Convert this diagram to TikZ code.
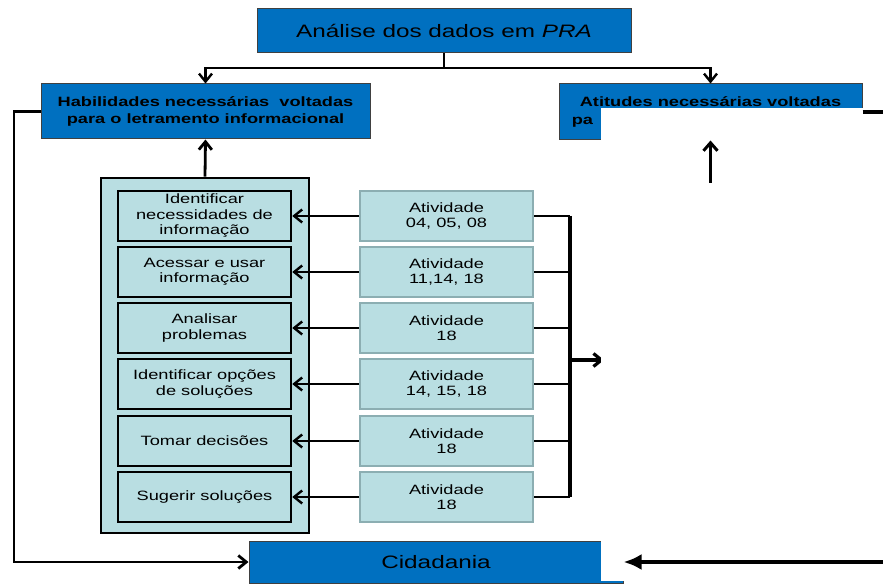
\documentclass[tikz,border=0pt]{standalone}
\usepackage{fontspec}
\setmainfont{Liberation Sans}[FakeStretch=1.35]
\usetikzlibrary{arrows.meta}
\definecolor{boxblue}{HTML}{0070C0}
\definecolor{lteal}{RGB}{185,222,226}
\definecolor{tealedge}{RGB}{140,174,178}
\begin{document}
\begin{tikzpicture}[x=1pt,y=-1pt,
  bluebox/.style={draw=black!75, line width=1pt, fill=boxblue, inner sep=0pt, text=black},
  bigtxt/.style={font=\fontsize{18}{21}\selectfont},
  boldtxt/.style={font=\fontsize{13.5}{17.5}\selectfont\bfseries, align=center},
  skillbox/.style={draw=black, line width=2.5pt, fill=lteal, minimum width=173pt, minimum height=50pt, inner sep=0pt, align=center, font=\fontsize{13.5}{15.5}\selectfont},
  actbox/.style={draw=tealedge, line width=2pt, fill=lteal, minimum width=173pt, minimum height=50pt, inner sep=0pt, align=center, font=\fontsize{13.5}{15.5}\selectfont},
  conn/.style={draw=black, line width=2.4pt},
  barb/.style={-{Straight Barb[length=8pt,width=13pt]}},
]
\useasboundingbox (0,0) rectangle (883,585);
\fill[white] (0,0) rectangle (883,585);

% top boxes
\node[bluebox, bigtxt, minimum width=374pt, minimum height=44pt] (title) at (444,31) {Análise dos dados em \textit{PRA}};
\node[bluebox, boldtxt, minimum width=329pt, minimum height=55pt] (hab) at (205.5,111.5) {Habilidades necessárias\ \ voltadas\\para o letramento informacional};
\node[bluebox, boldtxt, minimum width=303pt, minimum height=56pt] (atit) at (710.5,112) {Atitudes necessárias voltadas\\pa\phantom{ra o letramento informacional}};

\coordinate (split) at (444,68);
\draw[conn] (title.south) -- (split);
\draw[conn, barb] (split) -| (hab.north);
\draw[conn, barb] (split) -| (atit.north);

% panel
\node[draw=black, line width=2.8pt, fill=lteal, minimum width=208pt, minimum height=355pt, inner sep=0pt] (panel) at (205,355.5) {};
\draw[conn, line width=2.8pt, barb] (panel.north) -- (hab.south);

\node[skillbox] (s1) at (204.5,216) {Identificar\\necessidades de\\informação};
\node[skillbox] (s2) at (204.5,272) {Acessar e usar\\informação};
\node[skillbox] (s3) at (204.5,328) {Analisar\\problemas};
\node[skillbox] (s4) at (204.5,384) {Identificar opções\\de soluções};
\node[skillbox] (s5) at (204.5,441) {Tomar decisões};
\node[skillbox] (s6) at (204.5,497) {Sugerir soluções};

\node[actbox] (a1) at (446.5,216) {Atividade\\04, 05, 08};
\node[actbox] (a2) at (446.5,272) {Atividade\\11,14, 18};
\node[actbox] (a3) at (446.5,328) {Atividade\\18};
\node[actbox] (a4) at (446.5,384) {Atividade\\14, 15, 18};
\node[actbox] (a5) at (446.5,441) {Atividade\\18};
\node[actbox] (a6) at (446.5,497) {Atividade\\18};

\coordinate (bus) at (570,0);
\foreach \i in {1,...,6} {
  \draw[conn, barb] (a\i.west) -- (s\i.east);
  \draw[conn] (a\i.east) -- (a\i.east -| bus);
}
\draw[conn, line width=3.2pt] (a1.east -| bus) -- (a6.east -| bus);
\coordinate (busout) at (570,360);
\coordinate (busend) at (604,360);
\draw[conn, line width=3.2pt, -{Straight Barb[length=8pt,width=13pt]}] (busout) -- (busend);

% cidadania
\node[bluebox, bigtxt, minimum width=374pt, minimum height=42pt] (cid) at (436,562) {Cidadania};
\coordinate (loopcorner) at (14,111.5);
\draw[conn, line width=2.8pt, barb] (hab.west) -- (loopcorner) |- (cid.west);

% white cover
\fill[white] (601,108) rectangle (883,581);

% elements drawn over the cover
\coordinate (upfoot) at (710.5,183);
\draw[conn, line width=3pt, -{Straight Barb[length=8pt,width=14pt]}] (upfoot) -- (atit.south);
\coordinate (stubend) at (883,0);
\draw[conn, line width=4.5pt] (atit.east) -- (atit.east -| stubend);
\coordinate (cidin) at (883,562);
\draw[conn, line width=4.5pt, -{Latex[length=18pt,width=16pt]}] (cidin) -- (cid.east);
\end{tikzpicture}
\end{document}
